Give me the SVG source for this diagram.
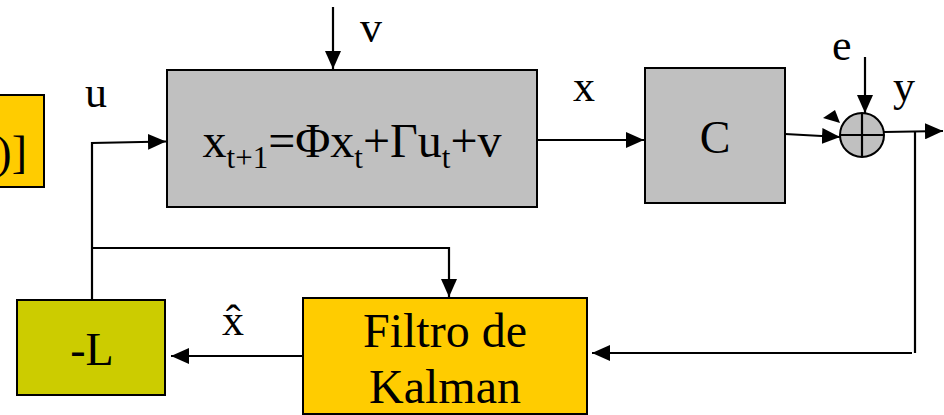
<svg xmlns="http://www.w3.org/2000/svg" width="944" height="415" viewBox="0 0 944 415">
<style>
.t{font-family:'Liberation Serif','Times New Roman',serif;fill:#000}
.lbl{font-size:44px}
.big{font-size:46px}
.big2{font-size:48px}
.box{stroke:#000;stroke-width:2}
.gray{fill:#C0C0C0}
.yel{fill:#FFCC00}
.olive{fill:#CCCC00}
.ln{stroke:#000;stroke-width:2.2;fill:none}
</style>
<defs>
<marker id="ah" markerUnits="userSpaceOnUse" markerWidth="20" markerHeight="16" refX="18" refY="8" orient="auto">
<path d="M0,0 L18,8 L0,16 Z" fill="#000"/>
</marker>
</defs>
<g id="partial-box">
<rect class="box yel" x="-10" y="95" width="54" height="92"/>
<text class="t big" x="27" y="168" text-anchor="end">)]</text>
</g>
<g id="plant">
<rect class="box gray" x="167" y="70" width="370" height="137"/>
<text class="t big2" x="352" y="157" text-anchor="middle">x<tspan font-size="31" dy="11">t+1</tspan><tspan dy="-11">=Φx</tspan><tspan font-size="31" dy="11">t</tspan><tspan dy="-11">+Γu</tspan><tspan font-size="31" dy="11">t</tspan><tspan dy="-11">+v</tspan></text>
</g>
<g id="C">
<rect class="box gray" x="645" y="68" width="140" height="135"/>
<text class="t big" x="715" y="153" text-anchor="middle">C</text>
</g>
<g id="sum">
<circle class="box gray" cx="862" cy="135" r="22"/>
<line class="ln" x1="840" y1="135" x2="884" y2="135"/>
<line class="ln" x1="862" y1="113" x2="862" y2="157"/>
<polygon points="823,118 835,110 840,123" fill="#000"/>
</g>
<g id="L">
<rect class="box olive" x="17" y="300" width="148" height="95"/>
<text class="t big" x="92" y="365" text-anchor="middle">-L</text>
</g>
<g id="kalman">
<rect class="box yel" x="303" y="298" width="284" height="116"/>
<text class="t big2" x="445" y="347" text-anchor="middle">Filtro de</text>
<text class="t big2" x="445" y="403" text-anchor="middle">Kalman</text>
</g>
<g id="labels">
<text class="t lbl" x="360" y="42">v</text>
<text class="t lbl" x="85" y="107">u</text>
<text class="t lbl" x="573" y="101">x</text>
<text class="t lbl" x="832" y="60">e</text>
<text class="t lbl" x="893" y="101">y</text>
<text class="t lbl" x="222" y="335">x̂</text>
</g>
<g id="connectors">
<line class="ln" x1="333" y1="7" x2="333" y2="69" marker-end="url(#ah)"/>
<line class="ln" x1="537" y1="140" x2="644" y2="140" marker-end="url(#ah)"/>
<line class="ln" x1="785" y1="134" x2="840" y2="137" marker-end="url(#ah)"/>
<line class="ln" x1="865" y1="57" x2="865" y2="113" marker-end="url(#ah)"/>
<line class="ln" x1="884" y1="132" x2="943" y2="131" marker-end="url(#ah)"/>
<polyline class="ln" points="915,131 915,353"/>
<line class="ln" x1="912" y1="353" x2="592" y2="353" marker-end="url(#ah)"/>
<line class="ln" x1="303" y1="356" x2="171" y2="356" marker-end="url(#ah)"/>
<polyline class="ln" points="92,299 92,143 166,141.5" marker-end="url(#ah)"/>
<polyline class="ln" points="92,248 449,248 449,297" marker-end="url(#ah)"/>
</g>
</svg>
